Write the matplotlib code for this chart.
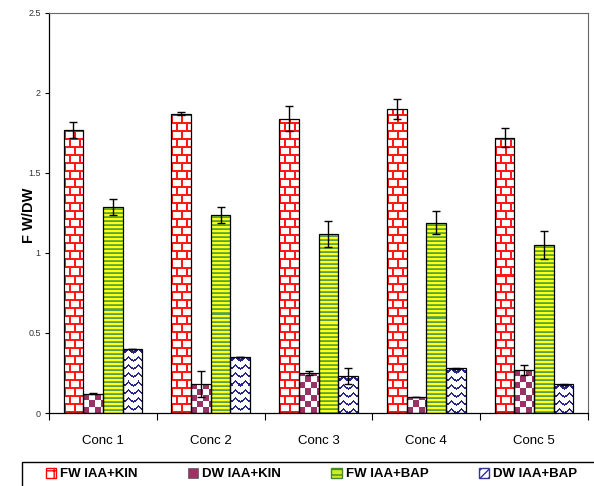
import numpy as np
import matplotlib
matplotlib.use("Agg")
import matplotlib.pyplot as plt
from matplotlib.patches import Patch, Rectangle
from matplotlib.ticker import FixedLocator, FuncFormatter

plt.rcParams['font.family'] = ['Liberation Sans', 'DejaVu Sans']

# data
categories = ['Conc 1', 'Conc 2', 'Conc 3', 'Conc 4', 'Conc 5']
series = ['FW IAA+KIN', 'DW IAA+KIN', 'FW IAA+BAP', 'DW IAA+BAP']
fw_kin = [1.77, 1.87, 1.84, 1.90, 1.72]
fw_kin_err = [0.05, 0.01, 0.08, 0.06, 0.06]
dw_kin = [0.12, 0.18, 0.25, 0.10, 0.27]
dw_kin_err = [0.003, 0.08, 0.01, 0.003, 0.03]
fw_bap = [1.29, 1.24, 1.12, 1.19, 1.05]
fw_bap_err = [0.05, 0.05, 0.08, 0.07, 0.09]
dw_bap = [0.40, 0.35, 0.23, 0.28, 0.18]
dw_bap_err = [0.003, 0.003, 0.05, 0.003, 0.003]
y_ticks = [0, 0.5, 1, 1.5, 2, 2.5]


# ---- pixel textures (Excel-like fill patterns) ----
def tex_bricks(h, w):
    img = np.ones((h, w, 3))
    yy, xx = np.mgrid[0:h, 0:w]
    yy = h - 1 - yy
    row = yy // 8
    mortar = (yy % 8) < 2
    mortar |= ((xx + 5 * (row % 2)) % 10) < 2
    img[mortar] = (1.0, 0.1, 0.1)
    return img


def tex_checker(h, w):
    img = np.ones((h, w, 3))
    yy, xx = np.mgrid[0:h, 0:w]
    yy = h - 1 - yy
    m = ((xx // 6) + (yy // 6)) % 2 == 0
    img[m] = (0.6, 0.2, 0.4)
    return img


def tex_stripes(h, w):
    img = np.ones((h, w, 3))
    yy = np.mgrid[0:h, 0:w][0]
    k = yy % 4
    img[k < 2] = (1.0, 1.0, 0.1)
    img[k == 2] = (0.45, 0.72, 0.2)
    img[k == 3] = (0.35, 0.62, 0.3)
    return img


def tex_waves(h, w):
    img = np.ones((h, w, 3))
    yy, xx = np.mgrid[0:h, 0:w]
    tri = np.abs((xx % 10) - 5) * 0.7
    m = ((yy - tri).astype(int) % 8) < 2
    img[m] = (0.15, 0.15, 0.55)
    return img


fig = plt.figure(figsize=(5.94, 4.86), dpi=100)
ax = fig.add_axes([49 / 594, 73 / 486, 539 / 594, 400 / 486])
ax.set_xlim(-0.5, 4.5)
ax.set_ylim(0, 2.5)

x = np.arange(len(categories))
width = 0.182
values = [fw_kin, dw_kin, fw_bap, dw_bap]
errors = [fw_kin_err, dw_kin_err, fw_bap_err, dw_bap_err]
textures = [tex_bricks, tex_checker, tex_stripes, tex_waves]

for i in range(4):
    pos = x + (i - 1.5) * width
    bars = ax.bar(pos, values[i], width, facecolor='none', edgecolor='black',
                  linewidth=0.9, zorder=3)
    for b in bars:
        x0, y0 = b.get_x(), b.get_y()
        x1, y1 = x0 + b.get_width(), y0 + b.get_height()
        p0 = ax.transData.transform((x0, y0))
        p1 = ax.transData.transform((x1, y1))
        wpx = max(int(round(p1[0] - p0[0])), 1)
        hpx = max(int(round(p1[1] - p0[1])), 1)
        im = ax.imshow(textures[i](hpx, wpx), extent=(x0, x1, y0, y1),
                       aspect='auto', interpolation='nearest', zorder=2)
        im.set_clip_path(b)
    ax.errorbar(pos, values[i], yerr=errors[i], fmt='none', ecolor='black',
                elinewidth=1, capsize=3, capthick=1, zorder=4)

ax.set_xlim(-0.5, 4.5)
ax.set_ylim(0, 2.5)

ax.set_xticks(x)
ax.set_xticklabels(categories, fontsize=9.5)
ax.tick_params(axis='x', which='major', length=0, pad=16)
ax.xaxis.set_minor_locator(FixedLocator(np.arange(-0.5, 5, 1)))
ax.tick_params(axis='x', which='minor', length=5, direction='out', width=0.8)

ax.set_yticks(y_ticks)
ax.yaxis.set_major_formatter(FuncFormatter(lambda v, p: f'{v:g}'))
ax.tick_params(axis='y', length=3, width=0.8, labelsize=6.5, labelcolor='#333333', pad=3)
ax.set_ylabel('F W/DW', fontsize=10.5, fontweight='bold')
ax.yaxis.set_label_coords(-0.024, 0.495)

for s in ['top', 'right']:
    ax.spines[s].set_color('#666666')
    ax.spines[s].set_linewidth(0.8)
for s in ['left', 'bottom']:
    ax.spines[s].set_linewidth(0.9)

# legend box running off the figure edge
fig.patches.append(Rectangle((22 / 594, -0.05), 1.0, (486 - 462) / 486 + 0.05,
                             transform=fig.transFigure, facecolor='none',
                             edgecolor='black', linewidth=1))
handles = [
    Patch(facecolor='white', edgecolor='red', hatch='++'),
    Patch(facecolor='#993366', edgecolor='#555555', linewidth=0.5),
    Patch(facecolor='#ccee22', edgecolor='#448833', hatch='---'),
    Patch(facecolor='white', edgecolor='#333399', hatch='////'),
]
fig.legend(handles, series, loc='center left', bbox_to_anchor=(39 / 594, 1 - 474 / 486),
           ncol=4, frameon=False, prop={'weight': 'bold', 'size': 9.5},
           handlelength=0.8, handleheight=0.8, handletextpad=0.3,
           columnspacing=3.8, borderpad=0)

fig.savefig('out.png', dpi=100)
